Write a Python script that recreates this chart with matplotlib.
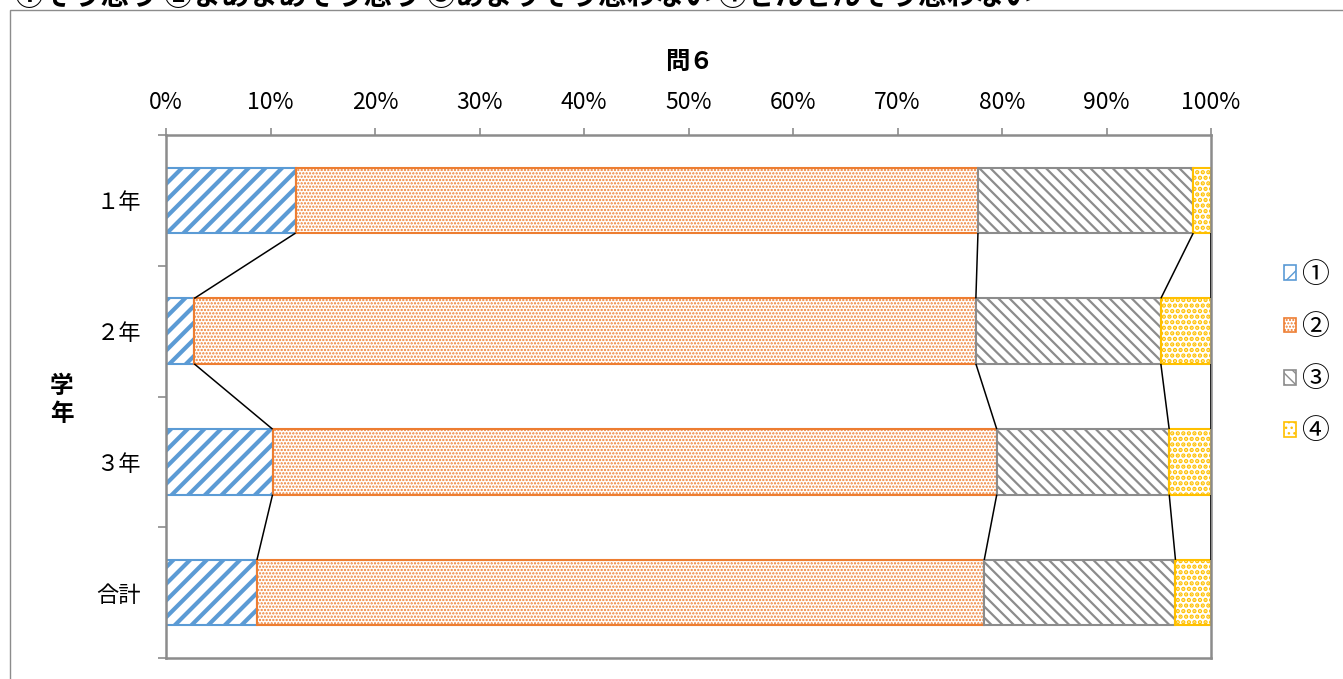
import matplotlib
matplotlib.use("Agg")
import matplotlib.pyplot as plt
from matplotlib.patches import Patch, Rectangle
import numpy as np

plt.rcParams['font.family'] = ['Noto Sans CJK JP', 'DejaVu Sans']

# data (percent)
grades = ['１年', '２年', '３年', '合計']
s1 = [12.4, 2.7, 10.2, 8.7]    # ①そう思う
s2 = [65.3, 74.8, 69.3, 69.6]  # ②まあまあそう思う
s3 = [20.6, 17.7, 16.5, 18.3]  # ③あまりそう思わない
s4 = [1.7, 4.8, 4.0, 3.4]      # ④ぜんぜんそう思わない
legend_labels = ['①', '②', '③', '④']
x_ticks = [0, 10, 20, 30, 40, 50, 60, 70, 80, 90, 100]

colors = ['#5B9BD5', '#ED7D31', '#8C8C8C', '#FFC000']
hatches = ['//', '.....', '\\\\\\', '...']
hatch_lw = [3.0, 1.1, 1.6, 2.2]
edge_lw = [1.5, 1.5, 1.5, 1.5]

W, H = 1343, 679
fig = plt.figure(figsize=(W / 100, H / 100), dpi=100)
ax = fig.add_axes([166 / W, 1 - 658 / H, (1211 - 166) / W, (658 - 135) / H])

series = [s1, s2, s3, s4]
y = np.arange(len(grades))
left = np.zeros(len(grades))
bar_h = 0.5
handles = []
for k, vals in enumerate(series):
    with plt.rc_context({'hatch.linewidth': hatch_lw[k]}):
        bars = ax.barh(y, vals, left=left, height=bar_h, color='white',
                       edgecolor=colors[k], hatch=hatches[k],
                       linewidth=edge_lw[k], zorder=2)
        for b in bars:
            try:
                b.set_hatch_linewidth(hatch_lw[k])
            except AttributeError:
                pass
        h = Patch(facecolor='white', edgecolor=colors[k], hatch=hatches[k],
                  linewidth=1.2)
        try:
            h.set_hatch_linewidth(hatch_lw[k])
        except AttributeError:
            pass
        handles.append(h)
    left = left + np.array(vals)

# series lines
cum = np.cumsum(np.array(series), axis=0)  # shape (4 series, 4 grades)
for i in range(len(grades) - 1):
    for k in range(len(series)):
        ax.plot([cum[k, i], cum[k, i + 1]], [i + bar_h / 2, i + 1 - bar_h / 2],
                color='black', lw=1.1, zorder=3, solid_capstyle='butt')

ax.set_xlim(0, 100)
ax.set_ylim(len(grades) - 0.5, -0.5)
ax.xaxis.tick_top()
ax.set_xticks(x_ticks)
ax.set_xticklabels([f'{t}%' for t in x_ticks])
ax.tick_params(axis='x', which='major', length=5, width=1.2, color='#8C8C8C',
               pad=10, labelsize=16.5)
ax.set_yticks(y)
ax.set_yticklabels(grades)
ax.set_yticks(np.arange(-0.5, len(grades), 1.0), minor=True)
ax.tick_params(axis='y', which='major', length=0, pad=18, labelsize=16)
ax.tick_params(axis='y', which='minor', length=6, width=1.2, color='#8C8C8C')
for sp in ax.spines.values():
    sp.set_color('#8C8C8C')
    sp.set_linewidth(1.8)

fig.text(689 / W, 1 - 62 / H, '問６', ha='center', va='center',
         fontsize=17.5, fontweight='bold')
fig.text(62 / W, 1 - 400 / H, '学\n年', ha='center', va='center',
         fontsize=17, fontweight='bold', linespacing=1.2)

fig.text(15 / W, 1 - 5 / H,
         '①そう思う ②まあまあそう思う ③あまりそう思わない ④ぜんぜんそう思わない',
         ha='left', va='baseline', fontsize=20.5, fontweight='bold')

# outer chart frame
fig.patches.append(Rectangle((10 / W, -0.05), 1.2, 1 - 10 / H + 0.05,
                             transform=fig.transFigure, fill=False,
                             edgecolor='#8C8C8C', lw=1.0))

leg = fig.legend(handles, legend_labels, loc='center left',
                 bbox_to_anchor=(1270 / W, 1 - 353 / H), frameon=False,
                 fontsize=20, handlelength=0.45, handleheight=0.45,
                 handletextpad=0.15, labelspacing=0.8, borderpad=0)

fig.savefig('out.png', dpi=100)
